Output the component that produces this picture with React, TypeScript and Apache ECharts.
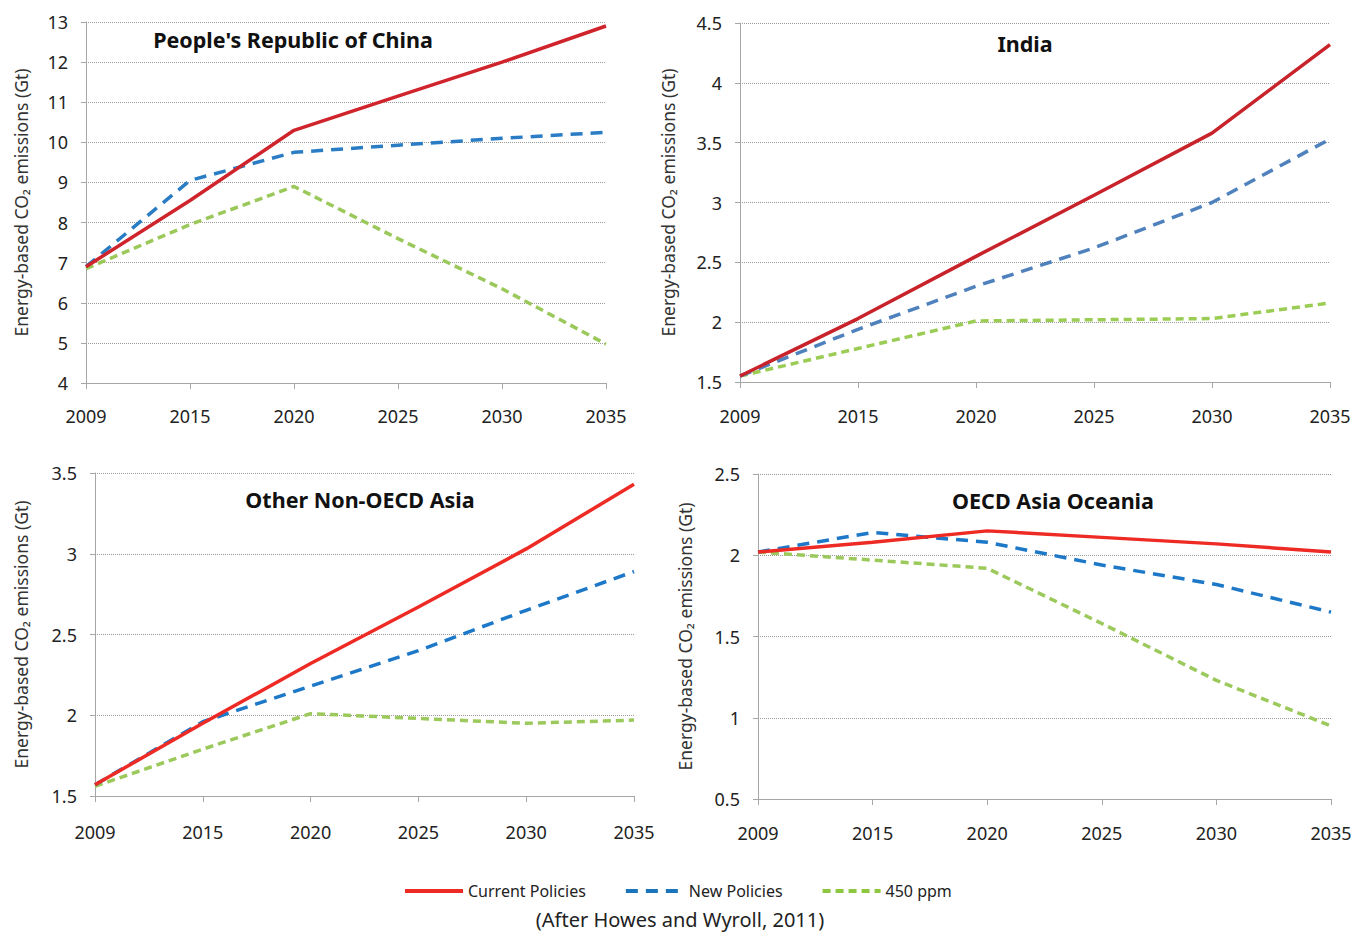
import React, { useEffect, useRef } from "react";
import * as echarts from "echarts";

const years = ["2009", "2015", "2020", "2025", "2030", "2035"];

const chinaCurrent = [6.9, 8.55, 10.3, 11.15, 12.0, 12.9];
const chinaNew = [6.9, 9.05, 9.75, 9.93, 10.1, 10.25];
const china450 = [6.85, 7.95, 8.9, 7.6, 6.35, 4.97];

const indiaCurrent = [1.55, 2.03, 2.55, 3.06, 3.58, 4.32];
const indiaNew = [1.55, 1.94, 2.3, 2.62, 3.0, 3.53];
const india450 = [1.55, 1.78, 2.01, 2.02, 2.03, 2.16];

const otherCurrent = [1.57, 1.95, 2.32, 2.67, 3.03, 3.43];
const otherNew = [1.57, 1.96, 2.18, 2.4, 2.65, 2.89];
const other450 = [1.56, 1.79, 2.01, 1.98, 1.95, 1.97];

const oecdCurrent = [2.02, 2.08, 2.15, 2.11, 2.07, 2.02];
const oecdNew = [2.02, 2.14, 2.08, 1.94, 1.82, 1.65];
const oecd450 = [2.02, 1.97, 1.92, 1.58, 1.23, 0.95];

const panelTitles = ["People's Republic of China", "India", "Other Non-OECD Asia", "OECD Asia Oceania"];
const seriesNames = ["Current Policies", "New Policies", "450 ppm"];
const yAxisName = "Energy-based CO\u2082 emissions (Gt)";
const caption = "(After Howes and Wyroll, 2011)";

const FONT = "'Noto Sans', 'Open Sans', sans-serif";

export default function App() {
  const ref = useRef<HTMLDivElement>(null);

  useEffect(() => {
    document.body.style.margin = "0";
    if (!ref.current) return;
    const chart = echarts.init(ref.current, undefined, { renderer: "svg" });

    const grids = [
      { left: 86, top: 22, width: 520, height: 361 },
      { left: 740, top: 23, width: 590, height: 359 },
      { left: 95, top: 473, width: 539, height: 323 },
      { left: 758, top: 474, width: 573, height: 325 },
    ];
    const yRanges = [
      { min: 4, max: 13, interval: 1 },
      { min: 1.5, max: 4.5, interval: 0.5 },
      { min: 1.5, max: 3.5, interval: 0.5 },
      { min: 0.5, max: 2.5, interval: 0.5 },
    ];
    const nameGaps = [56, 63, 65, 64];
    const xMargins = [24, 25, 27, 25];
    const titlePos = [
      [293, 40],
      [1025, 44],
      [360, 500],
      [1053, 501],
    ];
    const palette = [
      ["#d0242c", "#2a7dc4", "#9bc85a"],
      ["#c8232b", "#4f81bd", "#9bcc54"],
      ["#ee2a24", "#1d78c8", "#9cc95b"],
      ["#ee2a24", "#1d78c8", "#9cc95b"],
    ];
    const data = [
      [chinaCurrent, chinaNew, china450],
      [indiaCurrent, indiaNew, india450],
      [otherCurrent, otherNew, other450],
      [oecdCurrent, oecdNew, oecd450],
    ];
    const dashes: any[] = ["solid", [12, 8], [8, 5]];

    const xAxis = grids.map((_, i) => ({
      type: "category",
      gridIndex: i,
      data: years,
      boundaryGap: false,
      axisLine: { lineStyle: { color: "#a6a6a6", width: 1 } },
      axisTick: { show: true, length: 6, lineStyle: { color: "#a6a6a6" } },
      axisLabel: { interval: 0, margin: xMargins[i], color: "#222", fontSize: 18, fontFamily: FONT },
      splitLine: { show: false },
    }));
    const yAxis = grids.map((_, i) => ({
      type: "value",
      gridIndex: i,
      ...yRanges[i],
      name: yAxisName,
      nameLocation: "middle",
      nameRotate: 90,
      nameGap: nameGaps[i],
      nameTextStyle: { color: "#333", fontSize: 17.5, fontFamily: FONT },
      axisLine: { show: true, lineStyle: { color: "#a6a6a6", width: 1 } },
      axisTick: { show: true, length: 5, lineStyle: { color: "#a6a6a6" } },
      axisLabel: { margin: 18, color: "#222", fontSize: 18, fontFamily: FONT },
      splitLine: { show: true, lineStyle: { color: "#999", type: [1, 1], width: 1 } },
    }));

    const series: any[] = [];
    grids.forEach((_, i) => {
      seriesNames.forEach((name, k) => {
        series.push({
          type: "line",
          name,
          xAxisIndex: i,
          yAxisIndex: i,
          data: data[i][k],
          symbol: "none",
          smooth: false,
          z: 10 - k,
          lineStyle: { color: palette[i][k], width: 3.5, type: dashes[k] },
          itemStyle: { color: palette[i][k] },
        });
      });
    });

    const legendColors = ["#ee2a24", "#1b75bc", "#8dc63f"];

    chart.setOption({
      animation: false,
      backgroundColor: "#fff",
      grid: grids,
      xAxis,
      yAxis,
      series,
      legend: {
        top: 878,
        left: 398,
        itemWidth: 58,
        itemHeight: 12,
        itemGap: 38,
        textStyle: { color: "#222", fontSize: 16, fontFamily: FONT },
        data: seriesNames.map((n, k) => ({
          name: n,
          itemStyle: { color: legendColors[k], opacity: 0 },
          lineStyle: { color: legendColors[k], width: 4, type: dashes[k], opacity: 1 },
        })),
      },
      graphic: [
        ...panelTitles.map((t, i) => ({
          type: "text",
          x: titlePos[i][0],
          y: titlePos[i][1] - 1,
          style: {
            text: t,
            align: "center",
            verticalAlign: "middle",
            fontSize: 21.5,
            fontWeight: "bold",
            fontFamily: FONT,
            fill: "#111",
          },
        })),
        {
          type: "text",
          x: 680,
          y: 919,
          style: {
            text: caption,
            align: "center",
            verticalAlign: "middle",
            fontSize: 20,
            fontFamily: FONT,
            fill: "#222",
          },
        },
      ],
    });

    return () => chart.dispose();
  }, []);

  return <div ref={ref} style={{ width: 1355, height: 933 }} />;
}
